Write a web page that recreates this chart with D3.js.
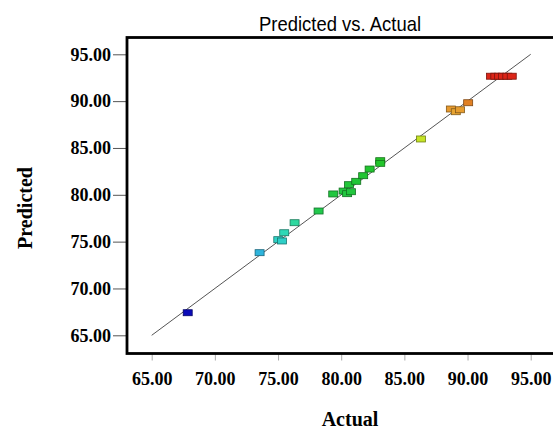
<!DOCTYPE html>
<html>
<head>
<meta charset="utf-8">
<script src="https://cdn.jsdelivr.net/npm/d3@7"></script>
<style>
html,body{margin:0;padding:0;background:#fff;}
svg{display:block;}
</style>
</head>
<body>
<svg id="chart" width="553" height="430"></svg>
<script>
// ---- data ----
const actual    = [67.85, 73.54, 75.02, 75.31, 75.49, 76.31, 78.21, 79.37, 80.19, 80.47, 80.77, 80.61, 81.19, 81.74, 82.25, 83.09, 83.09, 86.31, 88.68, 89.07, 89.41, 90.05, 91.85, 92.2, 92.5, 92.8, 93.15, 93.5];
const predicted = [67.41, 73.82, 75.21, 75.07, 75.95, 77.02, 78.27, 80.09, 80.40, 80.12, 80.33, 81.08, 81.44, 82.04, 82.75, 83.64, 83.36, 85.96, 89.16, 88.87, 89.08, 89.83, 92.66, 92.66, 92.66, 92.66, 92.66, 92.66];
const tickValues = [65, 70, 75, 80, 85, 90, 95];
const title = "Predicted vs. Actual";
const xTitle = "Actual";
const yTitle = "Predicted";

// ---- layout ----
const svg = d3.select("#chart");
const frame = {left: 127, top: 37.5, right: 560, bottom: 353.5};
const x = d3.scaleLinear().domain([65, 95]).range([151.7, 530.7]);
const y = d3.scaleLinear().domain([65, 95]).range([335.3, 54.3]);

const color = d3.scaleLinear()
  .domain([67.4, 73.8, 75.5, 77.0, 78.3, 83.6, 86.0, 89.0, 90.0, 92.7])
  .range(["#0a0ab8", "#2eb4dc", "#2ed8c0", "#2ed8a0", "#22c84a", "#22c42a", "#c8e426", "#e8a030", "#e07a22", "#dc2418"])
  .clamp(true);

// title
svg.append("text")
  .attr("x", 340).attr("y", 31)
  .attr("text-anchor", "middle")
  .attr("font-family", "Liberation Sans, Arial, sans-serif")
  .attr("font-size", 21)
  .attr("textLength", 162)
  .attr("lengthAdjust", "spacingAndGlyphs")
  .attr("fill", "#000")
  .text(title);

// y axis
const yAxis = svg.append("g")
  .attr("transform", `translate(${frame.left},0)`)
  .call(d3.axisLeft(y).tickValues(tickValues).tickFormat(d3.format(".2f")).tickSizeInner(14).tickSizeOuter(0).tickPadding(2));
yAxis.select(".domain").remove();
yAxis.selectAll(".tick line").attr("stroke", "#555").attr("stroke-width", 1);
yAxis.selectAll(".tick text")
  .attr("font-family", "Liberation Serif, Times New Roman, serif")
  .attr("font-weight", "bold")
  .attr("font-size", 18)
  .attr("fill", "#000");

// x axis
const xAxis = svg.append("g")
  .attr("transform", `translate(0,${frame.bottom})`)
  .call(d3.axisBottom(x).tickValues(tickValues).tickFormat(d3.format(".2f")).tickSizeInner(7).tickSizeOuter(0));
xAxis.select(".domain").remove();
xAxis.selectAll(".tick line").attr("stroke", "#aaa").attr("stroke-width", 1);
xAxis.selectAll(".tick text")
  .attr("y", 31).attr("dy", 0)
  .attr("font-family", "Liberation Serif, Times New Roman, serif")
  .attr("font-weight", "bold")
  .attr("font-size", 18)
  .attr("fill", "#000");

// frame
svg.append("rect")
  .attr("x", frame.left).attr("y", frame.top)
  .attr("width", frame.right - frame.left).attr("height", frame.bottom - frame.top)
  .attr("fill", "none").attr("stroke", "#000").attr("stroke-width", 2.8);

// diagonal reference line
svg.append("line")
  .attr("x1", x(65)).attr("y1", y(65))
  .attr("x2", x(95)).attr("y2", y(95))
  .attr("stroke", "#555").attr("stroke-width", 1);

// points
const pts = actual.map((a, i) => ({a, p: predicted[i]}));
svg.append("g").selectAll("rect").data(pts).enter().append("rect")
  .attr("x", d => x(d.a) - 4.5)
  .attr("y", d => y(d.p) - 3)
  .attr("width", 9).attr("height", 6)
  .attr("fill", d => color(d.p))
  .attr("stroke", d => d3.color(color(d.p)).darker(1.6))
  .attr("stroke-width", 0.8);

// axis titles
svg.append("text")
  .attr("x", 350).attr("y", 426)
  .attr("text-anchor", "middle")
  .attr("font-family", "Liberation Serif, Times New Roman, serif")
  .attr("font-weight", "bold")
  .attr("font-size", 20)
  .text(xTitle);

svg.append("text")
  .attr("transform", "translate(32,208) rotate(-90)")
  .attr("text-anchor", "middle")
  .attr("font-family", "Liberation Serif, Times New Roman, serif")
  .attr("font-weight", "bold")
  .attr("font-size", 20)
  .text(yTitle);
</script>
</body>
</html>
